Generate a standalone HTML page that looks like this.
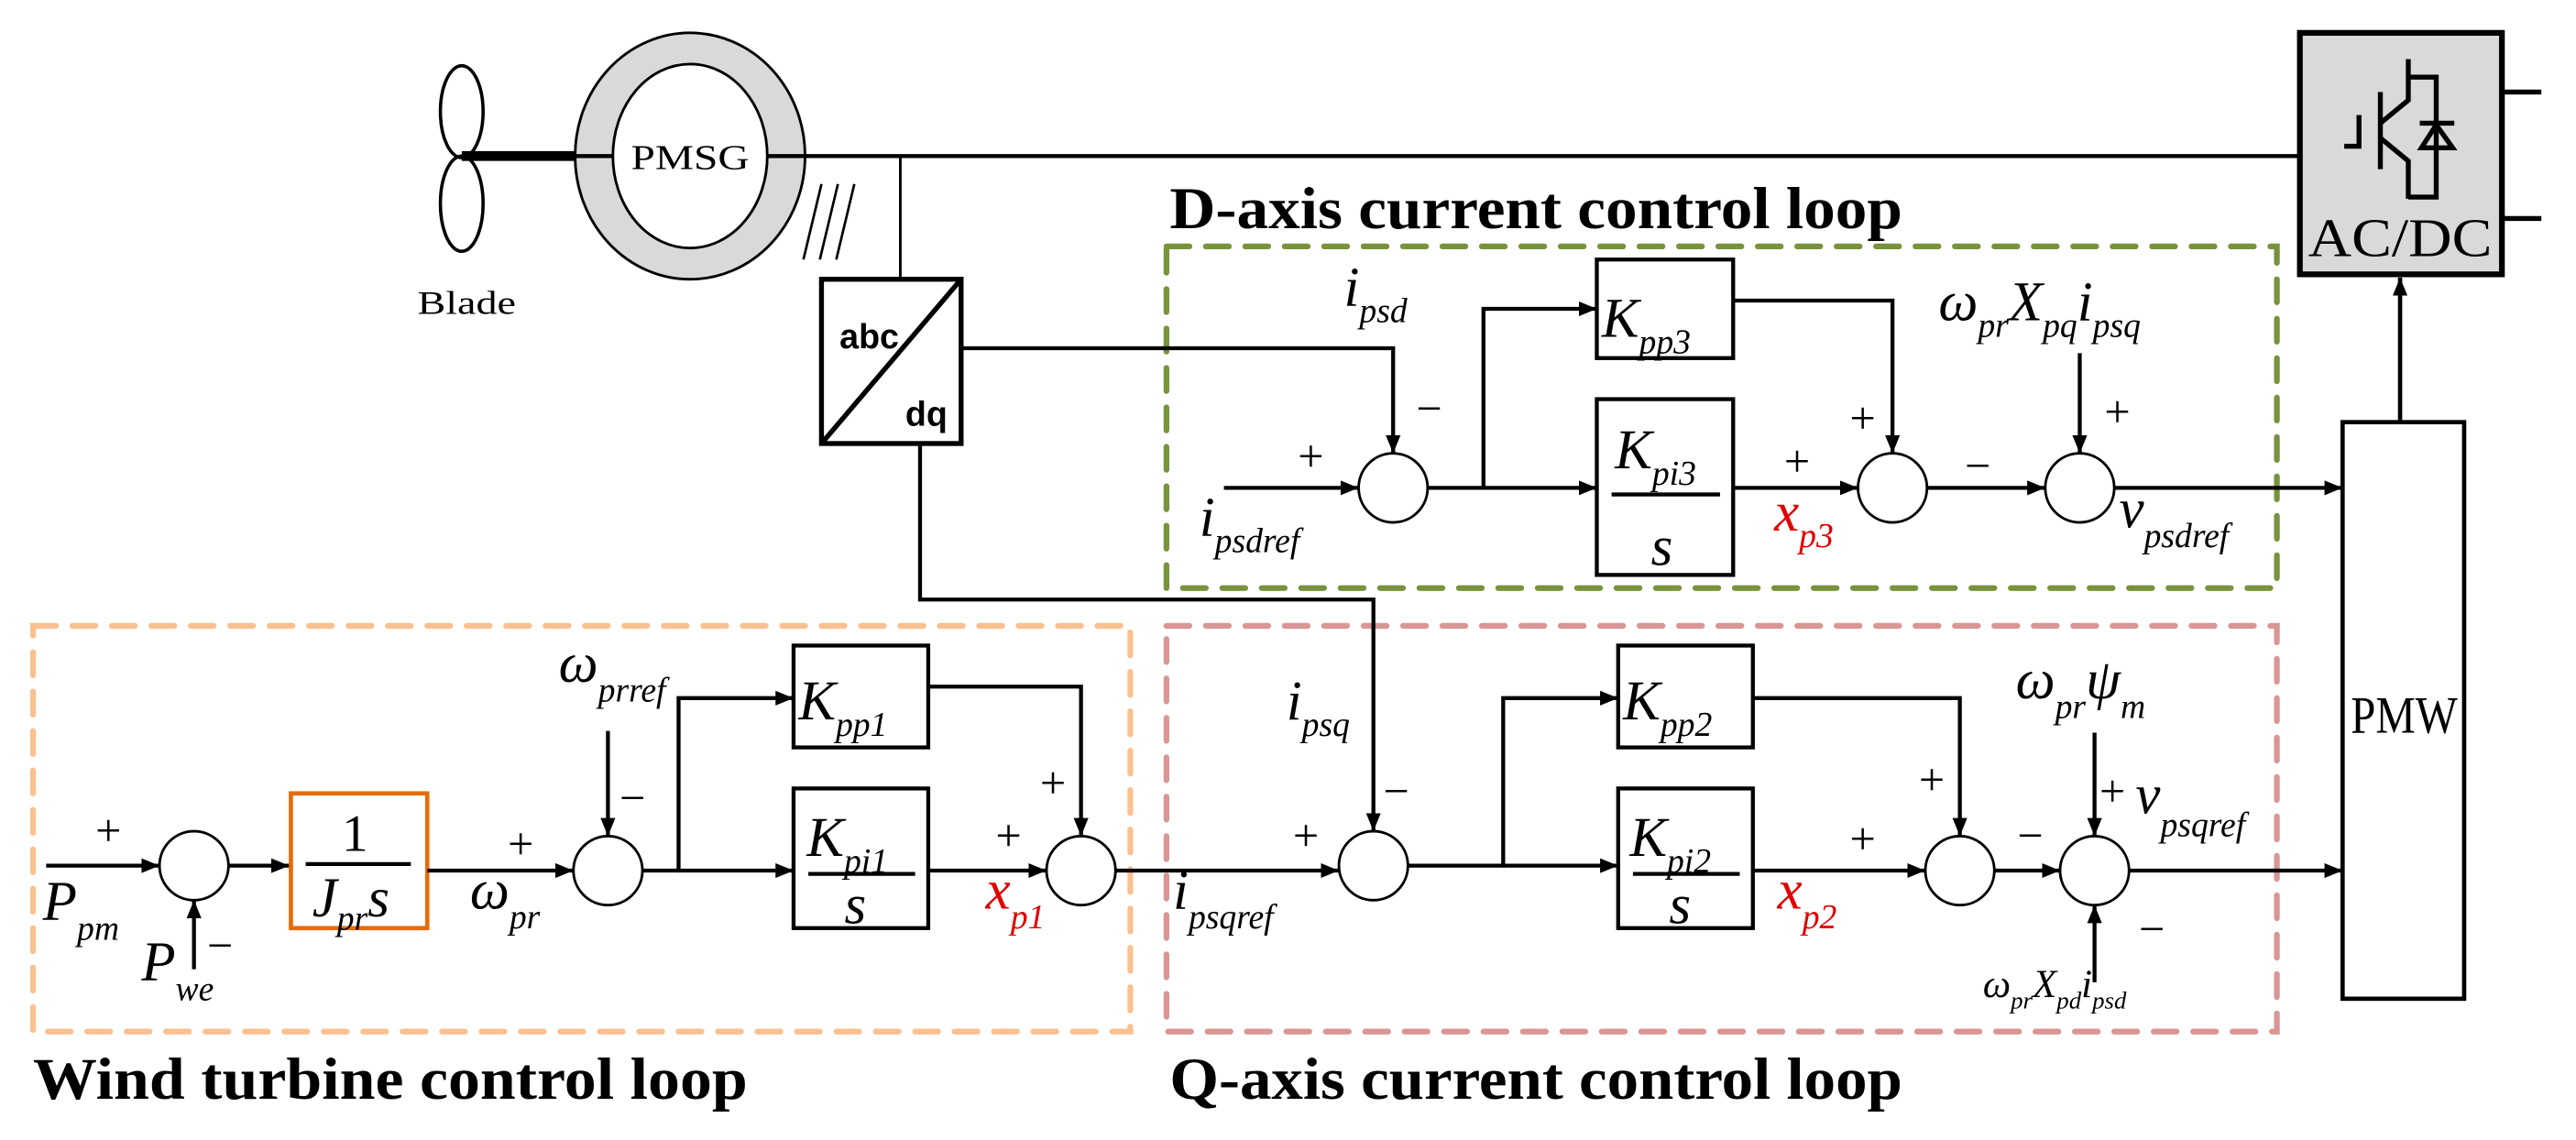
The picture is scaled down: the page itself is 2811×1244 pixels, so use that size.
<!DOCTYPE html>
<html><head><meta charset="utf-8">
<style>
html,body{margin:0;padding:0;background:#fff;}
svg{display:block;}
text{font-family:"Liberation Serif",serif;fill:#000;}
.v{font-style:italic;font-size:34px;}
.s{font-size:21px;font-style:italic;}
.t{font-weight:bold;font-size:36px;}
.pm{font-size:28px;}
.red{fill:#e00000;}
</style></head><body>
<svg width="2811" height="1244" viewBox="0 0 1568 694" xmlns="http://www.w3.org/2000/svg">
<defs>
<marker id="a" viewBox="0 0 10 10" refX="10" refY="5" markerWidth="11" markerHeight="9" markerUnits="userSpaceOnUse" orient="auto-start-reverse" preserveAspectRatio="none"><path d="M0,0L10,5L0,10Z" fill="#000"/></marker>
</defs>
<g fill="none" stroke="#000" stroke-width="2.4">
<rect x="710" y="150" width="676" height="208" stroke="#77933c" stroke-width="3.5" stroke-dasharray="14 10" stroke-linecap="round"/>
<rect x="710" y="381" width="676" height="247" stroke="#d99694" stroke-width="3.5" stroke-dasharray="14 10" stroke-linecap="round"/>
<rect x="20" y="381" width="668" height="247" stroke="#fac090" stroke-width="3.5" stroke-dasharray="14 10" stroke-linecap="round"/>

<ellipse cx="281" cy="68" rx="13" ry="28" stroke-width="2"/>
<ellipse cx="281" cy="124" rx="13" ry="29" stroke-width="2"/>
<line x1="281" y1="95" x2="350" y2="95" stroke-width="6"/>
<ellipse cx="420" cy="95" rx="70" ry="75" fill="#d9d9d9" stroke-width="1.6"/>
<ellipse cx="420" cy="95" rx="47" ry="56" fill="#fff" stroke-width="1.6"/>
<line x1="350" y1="95" x2="373" y2="95"/>
<line x1="467" y1="95" x2="1400" y2="95"/>
<line x1="489" y1="158" x2="500" y2="112" stroke-width="1.5"/>
<line x1="499" y1="158" x2="510" y2="112" stroke-width="1.5"/>
<line x1="509" y1="158" x2="520" y2="112" stroke-width="1.5"/>
<line x1="548" y1="95" x2="548" y2="170" stroke-width="1.6"/>
<rect x="500" y="170" width="85" height="100" stroke-width="3"/>
<line x1="500" y1="270" x2="585" y2="170" stroke-width="3"/>
<rect x="1400" y="20" width="123" height="147" fill="#d9d9d9" stroke-width="3.5"/>
<line x1="1523" y1="56" x2="1547" y2="56" stroke-width="3"/>
<line x1="1523" y1="133" x2="1547" y2="133" stroke-width="3"/>
<g stroke-width="3">
<line x1="1449" y1="56" x2="1449" y2="103"/>
<polyline points="1427,89 1436,89 1436,70"/>
<polyline points="1466,36 1466,61 1449,75"/>
<polyline points="1449,84 1466,98 1466,121"/>
<polyline points="1466,47 1483,47 1483,120 1466,120"/>
<line x1="1473" y1="75" x2="1494" y2="75"/>
<path d="M1474,90L1493,90L1483,76Z"/>
</g>
<rect x="1426" y="257" width="74" height="351" stroke-width="2.6"/>
<line x1="1461" y1="257" x2="1461" y2="169" marker-end="url(#a)" stroke-width="2.6"/>

<polyline points="585,212 848,212 848,276" marker-end="url(#a)"/>
<line x1="745" y1="297" x2="827" y2="297" marker-end="url(#a)"/>
<circle cx="848" cy="297" r="21" stroke-width="1.6"/>
<polyline points="869,297 903,297 903,188 972,188" marker-end="url(#a)"/>
<line x1="903" y1="297" x2="972" y2="297" marker-end="url(#a)"/>
<rect x="972" y="158" width="83" height="60"/>
<rect x="972" y="243" width="83" height="107"/>
<line x1="981" y1="301" x2="1047" y2="301"/>
<polyline points="1055,183 1152,183 1152,276" marker-end="url(#a)"/>
<line x1="1055" y1="297" x2="1131" y2="297" marker-end="url(#a)"/>
<circle cx="1152" cy="297" r="21" stroke-width="1.6"/>
<line x1="1173" y1="297" x2="1245" y2="297" marker-end="url(#a)"/>
<line x1="1266" y1="215" x2="1266" y2="276" marker-end="url(#a)"/>
<circle cx="1266" cy="297" r="21" stroke-width="1.6"/>
<line x1="1287" y1="297" x2="1426" y2="297" marker-end="url(#a)"/>

<polyline points="560,270 560,365 836,365 836,506" marker-end="url(#a)"/>

<line x1="28" y1="527" x2="97" y2="527" marker-end="url(#a)"/>
<circle cx="118" cy="527" r="21" stroke-width="1.6"/>
<line x1="118" y1="590" x2="118" y2="548" marker-end="url(#a)"/>
<line x1="139" y1="527" x2="176" y2="527" marker-end="url(#a)"/>
<rect x="177" y="483" width="83" height="82" stroke="#e46c0a" stroke-width="2.6"/>
<line x1="186" y1="526" x2="250" y2="526"/>
<line x1="260" y1="530" x2="349" y2="530" marker-end="url(#a)"/>
<line x1="370" y1="445" x2="370" y2="509" marker-end="url(#a)"/>
<circle cx="370" cy="530" r="21" stroke-width="1.6"/>
<polyline points="391,530 413,530 413,425 483,425" marker-end="url(#a)"/>
<line x1="413" y1="530" x2="483" y2="530" marker-end="url(#a)"/>
<rect x="483" y="393" width="82" height="62"/>
<rect x="483" y="480" width="82" height="85"/>
<line x1="492" y1="532" x2="557" y2="532"/>
<polyline points="565,418 658,418 658,509" marker-end="url(#a)"/>
<line x1="565" y1="530" x2="637" y2="530" marker-end="url(#a)"/>
<circle cx="658" cy="530" r="21" stroke-width="1.6"/>
<line x1="679" y1="530" x2="815" y2="530" marker-end="url(#a)"/>

<circle cx="836" cy="527" r="21" stroke-width="1.6"/>
<polyline points="857,527 915,527 915,425 985,425" marker-end="url(#a)"/>
<line x1="915" y1="527" x2="985" y2="527" marker-end="url(#a)"/>
<rect x="985" y="393" width="82" height="62"/>
<rect x="985" y="480" width="82" height="85"/>
<line x1="994" y1="532" x2="1059" y2="532"/>
<polyline points="1067,425 1193,425 1193,509" marker-end="url(#a)"/>
<line x1="1067" y1="530" x2="1172" y2="530" marker-end="url(#a)"/>
<circle cx="1193" cy="530" r="21" stroke-width="1.6"/>
<line x1="1214" y1="530" x2="1254" y2="530" marker-end="url(#a)"/>
<line x1="1275" y1="446" x2="1275" y2="509" marker-end="url(#a)"/>
<line x1="1275" y1="598" x2="1275" y2="551" marker-end="url(#a)"/>
<circle cx="1275" cy="530" r="21" stroke-width="1.6"/>
<line x1="1296" y1="530" x2="1426" y2="530" marker-end="url(#a)"/>
</g>

<text x="254" y="191" style="font-size:20px" textLength="60" lengthAdjust="spacingAndGlyphs">Blade</text>
<text x="384" y="103" style="font-size:21px" textLength="72" lengthAdjust="spacingAndGlyphs">PMSG</text>
<text x="511" y="212" style="font-size:21px;font-weight:bold;font-family:'Liberation Sans',sans-serif">abc</text>
<text x="551" y="259" style="font-size:21px;font-weight:bold;font-family:'Liberation Sans',sans-serif">dq</text>
<text x="1405" y="156" style="font-size:33px" textLength="112" lengthAdjust="spacingAndGlyphs">AC/DC</text>
<text x="1431" y="446" style="font-size:32px" textLength="65" lengthAdjust="spacingAndGlyphs">PMW</text>

<text class="t" x="712" y="139" textLength="446" lengthAdjust="spacingAndGlyphs">D-axis current control loop</text>
<text class="t" x="712" y="669" textLength="446" lengthAdjust="spacingAndGlyphs">Q-axis current control loop</text>
<text class="t" x="20" y="669" textLength="435" lengthAdjust="spacingAndGlyphs">Wind turbine control loop</text>

<text class="v" x="818" y="186">i<tspan class="s" dy="10">psd</tspan></text>
<text class="v" x="730" y="326">i<tspan class="s" dy="10">psdref</tspan></text>
<text class="pm" x="790" y="287">+</text>
<text class="pm" x="862" y="258">−</text>
<text class="v" x="975" y="205">K<tspan class="s" dy="10">pp3</tspan></text>
<text class="v" x="983" y="285">K<tspan class="s" dy="10">pi3</tspan></text>
<text class="v" x="1005" y="344">s</text>
<text class="pm" x="1086" y="290">+</text>
<text class="v red" x="1080" y="323">x<tspan class="s red" dy="10">p3</tspan></text>
<text class="pm" x="1126" y="264">+</text>
<text class="pm" x="1196" y="293">−</text>
<text class="pm" x="1281" y="260">+</text>
<text class="v" x="1180" y="195">ω<tspan class="s" dy="10">pr</tspan><tspan dy="-10">X</tspan><tspan class="s" dy="10">pq</tspan><tspan dy="-10">i</tspan><tspan class="s" dy="10">psq</tspan></text>
<text class="v" x="1290" y="321">v<tspan class="s" dy="12">psdref</tspan></text>

<text class="pm" x="58" y="515">+</text>
<text class="v" x="26" y="560">P<tspan class="s" dy="12">pm</tspan></text>
<text class="pm" x="126" y="585">−</text>
<text class="v" x="86" y="597">P<tspan class="s" dy="12">we</tspan></text>
<text style="font-size:32px" x="208" y="518">1</text>
<text class="v" x="190" y="558">J<tspan class="s" dy="8">pr</tspan><tspan dy="-8">s</tspan></text>
<text class="pm" x="309" y="523">+</text>
<text class="v" x="286" y="553">ω<tspan class="s" dy="12">pr</tspan></text>
<text class="v" x="340" y="415">ω<tspan class="s" dy="12">prref</tspan></text>
<text class="pm" x="377" y="495">−</text>
<text class="v" x="486" y="438">K<tspan class="s" dy="10">pp1</tspan></text>
<text class="v" x="491" y="521">K<tspan class="s" dy="10">pi1</tspan></text>
<text class="v" x="514" y="562">s</text>
<text class="pm" x="606" y="518">+</text>
<text class="v red" x="600" y="553">x<tspan class="s red" dy="12">p1</tspan></text>
<text class="pm" x="633" y="486">+</text>

<text class="pm" x="787" y="518">+</text>
<text class="v" x="714" y="553">i<tspan class="s" dy="12">psqref</tspan></text>
<text class="v" x="783" y="438">i<tspan class="s" dy="10">psq</tspan></text>
<text class="pm" x="842" y="491">−</text>
<text class="v" x="988" y="438">K<tspan class="s" dy="10">pp2</tspan></text>
<text class="v" x="992" y="521">K<tspan class="s" dy="10">pi2</tspan></text>
<text class="v" x="1016" y="562">s</text>
<text class="pm" x="1126" y="520">+</text>
<text class="v red" x="1082" y="553">x<tspan class="s red" dy="12">p2</tspan></text>
<text class="pm" x="1168" y="484">+</text>
<text class="pm" x="1228" y="518">−</text>
<text class="v" x="1227" y="425">ω<tspan class="s" dy="12">pr</tspan><tspan dy="-12">ψ</tspan><tspan class="s" dy="12">m</tspan></text>
<text class="pm" x="1278" y="491">+</text>
<text class="v" x="1300" y="495">v<tspan class="s" dy="14">psqref</tspan></text>
<text class="pm" x="1302" y="575">−</text>
<text x="1207" y="607" style="font-style:italic;font-size:24px">ω<tspan style="font-size:15px" dy="7">pr</tspan><tspan dy="-7">X</tspan><tspan style="font-size:15px" dy="7">pd</tspan><tspan dy="-7">i</tspan><tspan style="font-size:15px" dy="7">psd</tspan></text>
</svg>
</body></html>
